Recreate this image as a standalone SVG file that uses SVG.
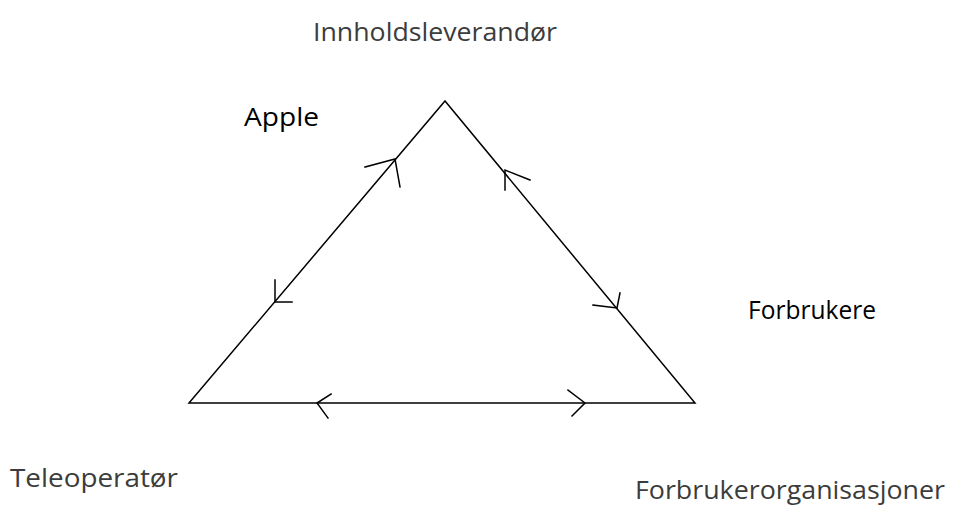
<svg xmlns="http://www.w3.org/2000/svg" width="954" height="505" viewBox="0 0 954 505">
<style>
.e{stroke:#000;stroke-width:1.5;fill:none;stroke-linecap:square}
.g{font-family:"Open Sans","Noto Sans",sans-serif;font-size:25px;fill:#3c3c3c}
.b{font-family:"Open Sans","Liberation Sans",sans-serif;font-size:26px;fill:#000}
</style>
<rect width="954" height="505" fill="#fff"/>
<g id="edges">
<path class="e" d="M189,403 L445,101 L695,403 Z"/>
<path class="e" d="M365,167 L395,159 L400,187"/>
<path class="e" d="M275,280 L275,302 L292,302"/>
<path class="e" d="M530,180 L505,170 L505,190"/>
<path class="e" d="M593,305 L617,308 L620,293"/>
<path class="e" d="M331,394 L317,403 L328,418"/>
<path class="e" d="M568,390 L585,403 L572,416"/>
</g>
<g id="innhold"><text class="g" x="313" y="41" textLength="244" lengthAdjust="spacingAndGlyphs">Innholdsleverandør</text></g>
<g id="apple"><text class="b" x="244" y="126" textLength="75" lengthAdjust="spacingAndGlyphs">Apple</text></g>
<g id="forbrukere"><text class="b" x="748" y="319" textLength="128" lengthAdjust="spacingAndGlyphs">Forbrukere</text></g>
<g id="tele"><text class="g" x="10" y="487" textLength="168" lengthAdjust="spacingAndGlyphs">Teleoperatør</text></g>
<g id="forbrukerorg"><text class="g" x="635" y="499" textLength="310" lengthAdjust="spacingAndGlyphs">Forbrukerorganisasjoner</text></g>
</svg>
